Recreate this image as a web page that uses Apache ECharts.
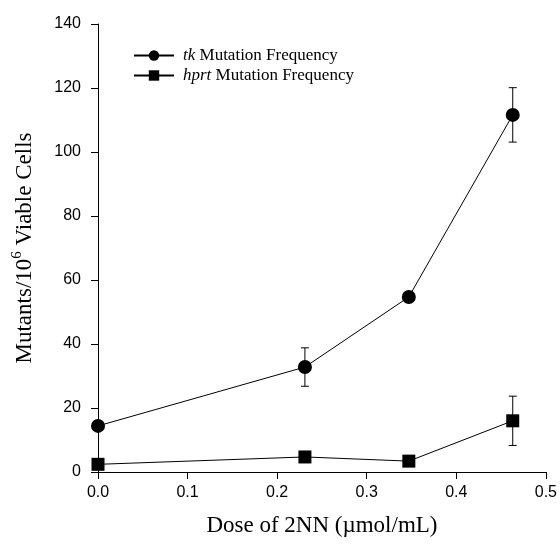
<!DOCTYPE html>
<html>
<head>
<meta charset="utf-8">
<script src="https://cdn.jsdelivr.net/npm/echarts@6/dist/echarts.min.js"></script>
<style>
  html, body { margin: 0; padding: 0; background: #fff; }
  #chart { width: 560px; height: 549px; }
</style>
</head>
<body>
<div id="chart"></div>
<script>
// dose (umol/mL)
const doses = [0, 0.231, 0.347, 0.463]
// tk mutation frequency + error
const tkValues = [14.4, 32.8, 54.7, 111.6]
const tkErrors = [0, 6.0, 0, 8.5]
// hprt mutation frequency + error
const hprtValues = [2.4, 4.7, 3.4, 16.0]
const hprtErrors = [0, 0, 0, 7.7]

const toPairs = (xs, ys) => xs.map((x, i) => [x, ys[i]])
const toErr = (xs, ys, es) => xs
  .map((x, i) => [x, ys[i] - es[i], ys[i] + es[i]])
  .filter((d, i) => es[i] > 0)

function errorBar (params, api) {
  const x = api.value(0)
  const lo = api.coord([x, api.value(1)])
  const hi = api.coord([x, api.value(2)])
  const cap = 4
  const style = { stroke: '#000', lineWidth: 1 }
  return {
    type: 'group',
    children: [
      { type: 'line', shape: { x1: lo[0], y1: lo[1], x2: hi[0], y2: hi[1] }, style },
      { type: 'line', shape: { x1: hi[0] - cap, y1: hi[1], x2: hi[0] + cap, y2: hi[1] }, style },
      { type: 'line', shape: { x1: lo[0] - cap, y1: lo[1], x2: lo[0] + cap, y2: lo[1] }, style }
    ]
  }
}

const chart = echarts.init(document.getElementById('chart'))
chart.setOption({
  backgroundColor: '#ffffff',
  animation: false,
  grid: { left: 98, right: 13, top: 24, bottom: 77, containLabel: false },
  legend: {
    left: 128,
    top: 42,
    orient: 'vertical',
    itemGap: 3,
    itemWidth: 40,
    itemHeight: 13,
    textStyle: {
      fontFamily: 'Liberation Serif',
      fontSize: 17,
      color: '#000',
      padding: [0, 0, 0, 4],
      rich: {
        it: { fontFamily: 'Liberation Serif', fontStyle: 'italic', fontSize: 17, color: '#000' },
        n: { fontFamily: 'Liberation Serif', fontSize: 17, color: '#000' }
      }
    },
    formatter: name => name === 'tk'
      ? '{it|tk} {n|Mutation Frequency}'
      : '{it|hprt} {n|Mutation Frequency}',
    data: ['tk', 'hprt']
  },
  xAxis: {
    type: 'value',
    min: 0,
    max: 0.5,
    interval: 0.1,
    name: 'Dose of 2NN (\u00b5mol/mL)',
    nameLocation: 'middle',
    nameGap: 42,
    nameTextStyle: { fontFamily: 'Liberation Serif', fontSize: 23, color: '#000' },
    axisLine: { lineStyle: { color: '#000', width: 1 } },
    axisTick: { show: true, inside: false, length: 7, lineStyle: { color: '#000' } },
    axisLabel: {
      fontFamily: 'Liberation Sans',
      fontSize: 16,
      color: '#000',
      margin: 13,
      formatter: v => v.toFixed(1)
    },
    splitLine: { show: false }
  },
  yAxis: {
    type: 'value',
    min: 0,
    max: 140,
    interval: 20,
    name: '{n|Mutants/10}{s|6}{n| Viable Cells}',
    nameLocation: 'middle',
    nameGap: 58,
    nameTextStyle: {
      color: '#000',
      rich: {
        n: { fontFamily: 'Liberation Serif', fontSize: 23, lineHeight: 30, color: '#000' },
        s: { fontFamily: 'Liberation Serif', fontSize: 15, lineHeight: 16, color: '#000', verticalAlign: 'top' }
      }
    },
    axisLine: { show: true, lineStyle: { color: '#000', width: 1 } },
    axisTick: { show: true, inside: false, length: 7, lineStyle: { color: '#000' } },
    axisLabel: { fontFamily: 'Liberation Sans', fontSize: 16, color: '#000', margin: 17 },
    splitLine: { show: false }
  },
  series: [
    {
      name: 'tk',
      type: 'line',
      data: toPairs(doses, tkValues),
      symbol: 'circle',
      symbolSize: 14,
      itemStyle: { color: '#000' },
      lineStyle: { color: '#000', width: 1 },
      z: 3
    },
    {
      name: 'hprt',
      type: 'line',
      data: toPairs(doses, hprtValues),
      symbol: 'rect',
      symbolSize: 13,
      itemStyle: { color: '#000' },
      lineStyle: { color: '#000', width: 1 },
      z: 3
    },
    {
      type: 'custom',
      renderItem: errorBar,
      data: toErr(doses, tkValues, tkErrors),
      encode: { x: 0, y: [1, 2] },
      z: 2
    },
    {
      type: 'custom',
      renderItem: errorBar,
      data: toErr(doses, hprtValues, hprtErrors),
      encode: { x: 0, y: [1, 2] },
      z: 2
    }
  ]
})
</script>
</body>
</html>
